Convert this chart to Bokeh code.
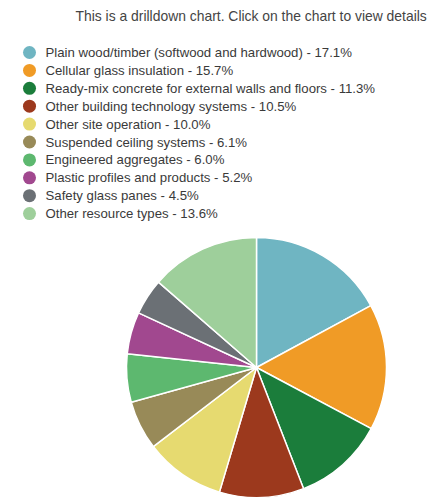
import numpy as np
from bokeh.plotting import figure
from bokeh.models import Range1d, ColumnDataSource
from bokeh.core.properties import value
from bokeh.embed import file_html
from bokeh.resources import INLINE

title_text = "This is a drilldown chart. Click on the chart to view details"
labels = [
    "Plain wood/timber (softwood and hardwood)",
    "Cellular glass insulation",
    "Ready-mix concrete for external walls and floors",
    "Other building technology systems",
    "Other site operation",
    "Suspended ceiling systems",
    "Engineered aggregates",
    "Plastic profiles and products",
    "Safety glass panes",
    "Other resource types",
]
shares = [17.1, 15.7, 11.3, 10.5, 10.0, 6.1, 6.0, 5.2, 4.5, 13.6]
colors = ["#6fb5c2", "#f09b26", "#1b7d3b", "#9c391d", "#e6da70",
          "#988a58", "#5db86f", "#a1488f", "#6b7075", "#9ecf9b"]

W, H = 437, 499
p = figure(width=W, height=H, output_backend="svg", toolbar_location=None,
           x_range=Range1d(0, W), y_range=Range1d(0, H), min_border=0)
p.axis.visible = False
p.grid.visible = False
p.outline_line_color = None
p.background_fill_color = "white"

def py(page_y):
    return H - page_y

def px(page_x):
    return page_x

# pie
vals = np.array(shares)
frac = vals / vals.sum()
cum = np.concatenate([[0], np.cumsum(frac)])
start = np.pi / 2 - 2 * np.pi * cum[:-1]
end = np.pi / 2 - 2 * np.pi * cum[1:]
src = ColumnDataSource(dict(start=start, end=end, color=colors))
p.wedge(x=px(256), y=py(367), radius=130, start_angle="start", end_angle="end",
        direction="clock", fill_color="color", line_color="white", line_width=1.5,
        source=src)

# title
p.text(x=[px(75)], y=[py(15)], text=[title_text], text_font=value("Liberation Sans"),
       text_font_size="13.9px", text_color="#444444", text_baseline="middle")

# legend
n = len(labels)
ly = [py(52 + 17.9 * i) for i in range(n)]
texts = [f"{l} - {v:.1f}%" for l, v in zip(labels, shares)]
lsrc = ColumnDataSource(dict(y=ly, text=texts, color=colors))
p.scatter(x=px(29), y="y", size=13, marker="circle", fill_color="color",
          line_color=None, source=lsrc)
p.text(x=px(45), y="y", text="text", text_font=value("Liberation Sans"),
       text_font_size="13.2px", text_color="#3a3a3a", text_baseline="middle",
       source=lsrc)

open("out.html", "w").write(file_html(p, INLINE))
